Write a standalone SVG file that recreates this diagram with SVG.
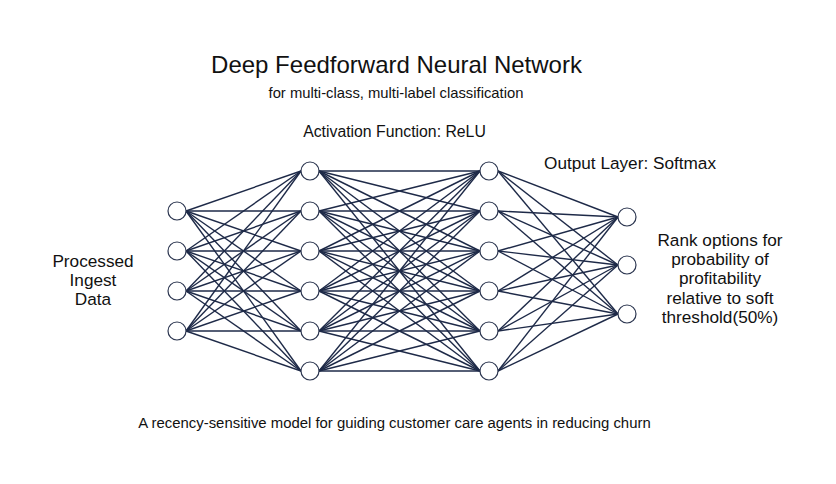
<svg xmlns="http://www.w3.org/2000/svg" width="836" height="484" viewBox="0 0 836 484">
<style>
.bg{fill:#ffffff}
.edges line{stroke:#1e2a48;stroke-width:1.4}
.node circle{fill:#ffffff;stroke:#2c3650;stroke-width:1.2}
text{font-family:"Liberation Sans",Arial,Helvetica,sans-serif;fill:#111111;text-anchor:middle}
.t1{font-size:24px}
.t2{font-size:14.8px}
.t3{font-size:15.8px}
.t5{font-size:17.2px}
.t4{font-size:14.9px}
</style>
<rect class="bg" x="0" y="0" width="836" height="484"/>
<g id="connectors" class="edges">
<line x1="186" y1="211" x2="301" y2="171"/><line x1="186" y1="211" x2="301" y2="211"/><line x1="186" y1="211" x2="301" y2="251"/><line x1="186" y1="211" x2="301" y2="291"/><line x1="186" y1="211" x2="301" y2="331"/><line x1="186" y1="211" x2="301" y2="371"/>
<line x1="186" y1="251" x2="301" y2="171"/><line x1="186" y1="251" x2="301" y2="211"/><line x1="186" y1="251" x2="301" y2="251"/><line x1="186" y1="251" x2="301" y2="291"/><line x1="186" y1="251" x2="301" y2="331"/><line x1="186" y1="251" x2="301" y2="371"/>
<line x1="186" y1="291" x2="301" y2="171"/><line x1="186" y1="291" x2="301" y2="211"/><line x1="186" y1="291" x2="301" y2="251"/><line x1="186" y1="291" x2="301" y2="291"/><line x1="186" y1="291" x2="301" y2="331"/><line x1="186" y1="291" x2="301" y2="371"/>
<line x1="186" y1="331" x2="301" y2="171"/><line x1="186" y1="331" x2="301" y2="211"/><line x1="186" y1="331" x2="301" y2="251"/><line x1="186" y1="331" x2="301" y2="291"/><line x1="186" y1="331" x2="301" y2="331"/><line x1="186" y1="331" x2="301" y2="371"/>
<line x1="319" y1="171" x2="480" y2="171"/><line x1="319" y1="171" x2="480" y2="211"/><line x1="319" y1="171" x2="480" y2="251"/><line x1="319" y1="171" x2="480" y2="291"/><line x1="319" y1="171" x2="480" y2="331"/><line x1="319" y1="171" x2="480" y2="371"/>
<line x1="319" y1="211" x2="480" y2="171"/><line x1="319" y1="211" x2="480" y2="211"/><line x1="319" y1="211" x2="480" y2="251"/><line x1="319" y1="211" x2="480" y2="291"/><line x1="319" y1="211" x2="480" y2="331"/><line x1="319" y1="211" x2="480" y2="371"/>
<line x1="319" y1="251" x2="480" y2="171"/><line x1="319" y1="251" x2="480" y2="211"/><line x1="319" y1="251" x2="480" y2="251"/><line x1="319" y1="251" x2="480" y2="291"/><line x1="319" y1="251" x2="480" y2="331"/><line x1="319" y1="251" x2="480" y2="371"/>
<line x1="319" y1="291" x2="480" y2="171"/><line x1="319" y1="291" x2="480" y2="211"/><line x1="319" y1="291" x2="480" y2="251"/><line x1="319" y1="291" x2="480" y2="291"/><line x1="319" y1="291" x2="480" y2="331"/><line x1="319" y1="291" x2="480" y2="371"/>
<line x1="319" y1="331" x2="480" y2="171"/><line x1="319" y1="331" x2="480" y2="211"/><line x1="319" y1="331" x2="480" y2="251"/><line x1="319" y1="331" x2="480" y2="291"/><line x1="319" y1="331" x2="480" y2="331"/><line x1="319" y1="331" x2="480" y2="371"/>
<line x1="319" y1="371" x2="480" y2="171"/><line x1="319" y1="371" x2="480" y2="211"/><line x1="319" y1="371" x2="480" y2="251"/><line x1="319" y1="371" x2="480" y2="291"/><line x1="319" y1="371" x2="480" y2="331"/><line x1="319" y1="371" x2="480" y2="371"/>
<line x1="498" y1="171" x2="618" y2="217"/><line x1="498" y1="171" x2="618" y2="265"/><line x1="498" y1="171" x2="618" y2="314"/>
<line x1="498" y1="211" x2="618" y2="217"/><line x1="498" y1="211" x2="618" y2="265"/><line x1="498" y1="211" x2="618" y2="314"/>
<line x1="498" y1="251" x2="618" y2="217"/><line x1="498" y1="251" x2="618" y2="265"/><line x1="498" y1="251" x2="618" y2="314"/>
<line x1="498" y1="291" x2="618" y2="217"/><line x1="498" y1="291" x2="618" y2="265"/><line x1="498" y1="291" x2="618" y2="314"/>
<line x1="498" y1="331" x2="618" y2="217"/><line x1="498" y1="331" x2="618" y2="265"/><line x1="498" y1="331" x2="618" y2="314"/>
<line x1="498" y1="371" x2="618" y2="217"/><line x1="498" y1="371" x2="618" y2="265"/><line x1="498" y1="371" x2="618" y2="314"/>
</g>
<g id="input-1" class="node"><circle cx="177" cy="211" r="9"/></g>
<g id="input-2" class="node"><circle cx="177" cy="251" r="9"/></g>
<g id="input-3" class="node"><circle cx="177" cy="291" r="9"/></g>
<g id="input-4" class="node"><circle cx="177" cy="331" r="9"/></g>
<g id="h1-1" class="node"><circle cx="310" cy="171" r="9"/></g>
<g id="h1-2" class="node"><circle cx="310" cy="211" r="9"/></g>
<g id="h1-3" class="node"><circle cx="310" cy="251" r="9"/></g>
<g id="h1-4" class="node"><circle cx="310" cy="291" r="9"/></g>
<g id="h1-5" class="node"><circle cx="310" cy="331" r="9"/></g>
<g id="h1-6" class="node"><circle cx="310" cy="371" r="9"/></g>
<g id="h2-1" class="node"><circle cx="489" cy="171" r="9"/></g>
<g id="h2-2" class="node"><circle cx="489" cy="211" r="9"/></g>
<g id="h2-3" class="node"><circle cx="489" cy="251" r="9"/></g>
<g id="h2-4" class="node"><circle cx="489" cy="291" r="9"/></g>
<g id="h2-5" class="node"><circle cx="489" cy="331" r="9"/></g>
<g id="h2-6" class="node"><circle cx="489" cy="371" r="9"/></g>
<g id="out-1" class="node"><circle cx="627" cy="217" r="9"/></g>
<g id="out-2" class="node"><circle cx="627" cy="265" r="9"/></g>
<g id="out-3" class="node"><circle cx="627" cy="314" r="9"/></g>
<g id="labels">
<text class="t1" x="396.5" y="73">Deep Feedforward Neural Network</text>
<text class="t2" x="396" y="98">for multi-class, multi-label classification</text>
<text class="t3" x="394.5" y="137">Activation Function: ReLU</text>
<text class="t5" x="630" y="169">Output Layer: Softmax</text>
<text class="t5" x="93" y="267">Processed</text>
<text class="t5" x="93" y="286">Ingest</text>
<text class="t5" x="93" y="305">Data</text>
<text class="t5" x="720" y="246">Rank options for</text>
<text class="t5" x="720" y="265">probability of</text>
<text class="t5" x="720" y="284">profitability</text>
<text class="t5" x="720" y="304">relative to soft</text>
<text class="t5" x="720" y="323">threshold(50%)</text>
<text class="t4" x="394.5" y="428">A recency-sensitive model for guiding customer care agents in reducing churn</text>
</g>
</svg>
